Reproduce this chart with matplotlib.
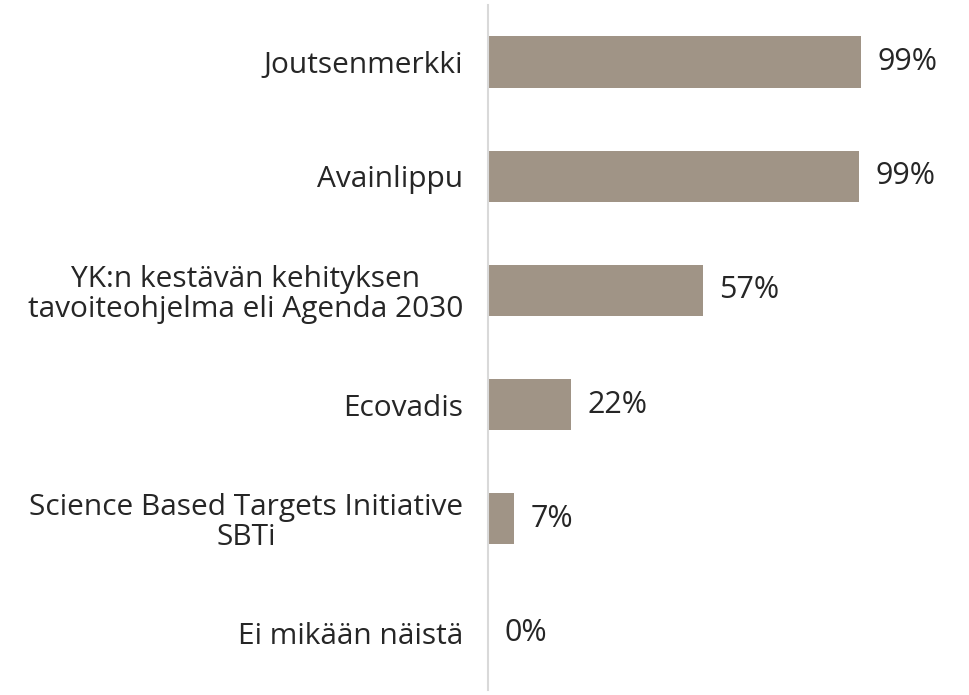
import matplotlib
matplotlib.use("Agg")
import matplotlib.pyplot as plt

labels = ["Joutsenmerkki", "Avainlippu",
          "YK:n kestävän kehityksen\ntavoiteohjelma eli Agenda 2030",
          "Ecovadis", "Science Based Targets Initiative\nSBTi", "Ei mikään näistä"]
values = [99, 98.5, 57, 22, 7, 0]
value_text = ["99%", "99%", "57%", "22%", "7%", "0%"]

W, H = 969, 695
fig = plt.figure(figsize=(W / 100, H / 100), dpi=100)
ax = fig.add_axes([488 / W, 5 / H, 377 / W, 685 / H])

fam = ['Open Sans', 'DejaVu Sans']
txt = "#262626"

y = range(len(labels))
ax.barh(y, values, height=0.45, color="#A09486", zorder=2)
ax.set_xlim(0, 100)
ax.set_ylim(len(labels) - 0.5, -0.5)

for i, (v, t) in enumerate(zip(values, value_text)):
    ax.text(v + 4.3, i, t, va="center", ha="left", fontsize=22, color=txt, family=fam)

ax.set_yticks(list(y))
ax.set_yticklabels(labels, fontsize=21.5, color=txt, family=fam, ha="right",
                   multialignment="center", linespacing=1.05)
ax.tick_params(axis="y", length=0, pad=18)
ax.set_xticks([])
for s in ["top", "right", "bottom"]:
    ax.spines[s].set_visible(False)
ax.spines["left"].set_color("#D9D9D9")
ax.spines["left"].set_linewidth(1.5)

fig.savefig("out.png", dpi=100)
